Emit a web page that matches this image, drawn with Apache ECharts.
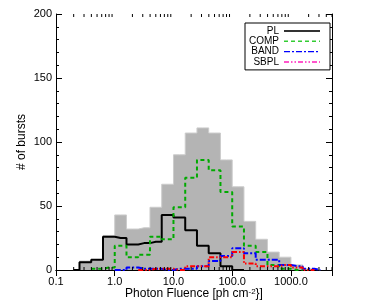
<!DOCTYPE html>
<html>
<head>
<meta charset="utf-8">
<script src="https://cdn.jsdelivr.net/npm/echarts@6/dist/echarts.min.js"></script>
<style>html,body{margin:0;padding:0;background:#fff;}#c{width:369px;height:301px;}</style>
</head>
<body>
<div id="c"></div>
<script>
// bin centres in log10(photon fluence)
const binCentersLog = [-0.7,-0.5,-0.3,-0.1,0.1,0.3,0.5,0.7,0.9,1.1,1.3,1.5,1.7,1.9,2.1,2.3,2.5,2.7,2.9,3.1,3.3,3.5];
const totalCounts = [0,7,8,27,43,32,33,49,67,90,107,111,107,86,65,38,24,14,10,4,1,0];
const plCounts    = [0,6,8,26,25,20,21,22,43,41,31,19,13,3,0,null,null,null,null,null,null,null];
const compCounts  = [null,null,1,2,19,10,12,26,24,49,72,86,78,61,34,19,14,4,1,0,null,null];
const bandCounts  = [null,null,null,null,0,2,1,1,0,1,1,3,7,11,17,13,8,8,4,3,1,0];
const sbplCounts  = [null,null,null,null,null,null,0,1,1,0,3,3,10,10,14,5,3,3,4,2,0,null];
const xTickLabels = [0.1,1,10,100,1000];
const xMinorTicks = [0.2,0.3,0.4,0.5,0.6,0.7,0.8,0.9,2,3,4,5,6,7,8,9,20,30,40,50,60,70,80,90,200,300,400,500,600,700,800,900,2000,3000,4000,5000];

const FONT = 'Liberation Sans, Arial, sans-serif';
const centers = binCentersLog.map(c => Math.pow(10, c));
function pairs(arr){ return centers.map((x,i)=>[x, arr[i]]); }

const chart = echarts.init(document.getElementById('c'), null, {renderer:'canvas'});

function lineSeries(name, arr, color, type, width){
  return {
    name, type:'line', step:'middle', data: pairs(arr), symbol:'none', connectNulls:false,
    lineStyle:{color, type, width}, itemStyle:{color}, z:3
  };
}

const axisLineStyle = {color:'#000', width:1};
const hiddenSym = {opacity:0, borderWidth:0};
const option = {
  animation:false,
  backgroundColor:'#fff',
  grid:{left:56, right:37, top:14, bottom:31, containLabel:false, outerBoundsMode:'none'},
  legend:{
    orient:'vertical', align:'right', left:245, top:23,
    itemWidth:36, itemHeight:9, itemGap:0.3,
    padding:[3,9,3,4],
    borderColor:'#000', borderWidth:1, borderRadius:0, backgroundColor:'#fff',
    textStyle:{fontSize:10, fontFamily:FONT, color:'#000', lineHeight:9},
    itemStyle:hiddenSym,
    data:[
      {name:'PL', itemStyle:hiddenSym, lineStyle:{color:'#333', width:2}},
      {name:'COMP', itemStyle:hiddenSym, lineStyle:{color:'#33cc33', width:1.5}},
      {name:'BAND', itemStyle:hiddenSym, lineStyle:{color:'#0000ff', width:1.2}},
      {name:'SBPL', itemStyle:hiddenSym, lineStyle:{color:'#ff55cc', width:2}}
    ]
  },
  xAxis:[
    {
      type:'log', logBase:10, min:0.1, max:5000, position:'bottom',
      axisLine:{show:true, lineStyle:axisLineStyle},
      axisTick:{show:true, inside:true, length:6, lineStyle:{color:'#000'}},
      axisLabel:{color:'#000', fontSize:11, fontFamily:FONT, margin:6,
        formatter:function(v){
          for (const t of xTickLabels){ if (Math.abs(v - t) / t < 1e-6) return t.toFixed(1); }
          return '';
        }},
      splitLine:{show:false},
      name:'Photon Fluence [ph cm{sup|-2}}]', nameLocation:'middle', nameGap:18, nameMoveOverlap:false,
      nameTextStyle:{color:'#000', fontSize:12, fontFamily:FONT, lineHeight:12, verticalAlign:'top',
        rich:{sup:{fontSize:8, lineHeight:8, fontFamily:FONT, color:'#000', verticalAlign:'top'}}}
    },
    {
      type:'log', logBase:10, min:0.1, max:5000, position:'top',
      axisLine:{show:true, lineStyle:axisLineStyle},
      axisTick:{show:true, inside:true, length:6, lineStyle:{color:'#000'}},
      axisLabel:{show:false}, splitLine:{show:false}
    }
  ],
  yAxis:[
    {
      type:'value', min:0, max:200, interval:50, position:'left',
      axisLine:{show:true, lineStyle:axisLineStyle},
      axisTick:{show:true, inside:true, length:6, lineStyle:{color:'#000'}},
      minorTick:{show:true, splitNumber:5, length:3, lineStyle:{color:'#000'}},
      axisLabel:{color:'#000', fontSize:11, fontFamily:FONT, margin:4},
      splitLine:{show:false}, minorSplitLine:{show:false},
      name:'# of bursts', nameLocation:'middle', nameGap:28, nameRotate:90, nameMoveOverlap:false,
      nameTextStyle:{color:'#000', fontSize:12, fontFamily:FONT}
    },
    {
      type:'value', min:0, max:200, interval:50, position:'right',
      axisLine:{show:true, lineStyle:axisLineStyle},
      axisTick:{show:true, inside:true, length:6, lineStyle:{color:'#000'}},
      minorTick:{show:true, splitNumber:5, length:3, lineStyle:{color:'#000'}},
      axisLabel:{show:false}, splitLine:{show:false}
    }
  ],
  series:[
    {
      name:'Total', type:'line', step:'middle', data:pairs(totalCounts), symbol:'none',
      lineStyle:{color:'#cccccc', width:1}, areaStyle:{color:'#b4b4b4', opacity:1}, z:1
    },
    lineSeries('PL', plCounts, '#000000', 'solid', 2),
    lineSeries('COMP', compCounts, '#00aa00', [4,3], 2),
    lineSeries('BAND', bandCounts, '#0000ff', [6,2,2,2], 2),
    lineSeries('SBPL', sbplCounts, '#ff0000', [5,2,1.5,2,1.5,2], 2),
    {
      type:'custom', silent:true, clip:false, z:5,
      data: xMinorTicks.map(v=>[v,0]),
      renderItem:function(params, api){
        const v = api.value(0);
        const b = api.coord([v, 0]);
        const t = api.coord([v, 200]);
        return {type:'group', children:[
          {type:'line', shape:{x1:b[0], y1:b[1], x2:b[0], y2:b[1]-3}, style:{stroke:'#000', lineWidth:1}},
          {type:'line', shape:{x1:t[0], y1:t[1], x2:t[0], y2:t[1]+3}, style:{stroke:'#000', lineWidth:1}}
        ]};
      }
    }
  ]
};
chart.setOption(option);
</script>
</body>
</html>
